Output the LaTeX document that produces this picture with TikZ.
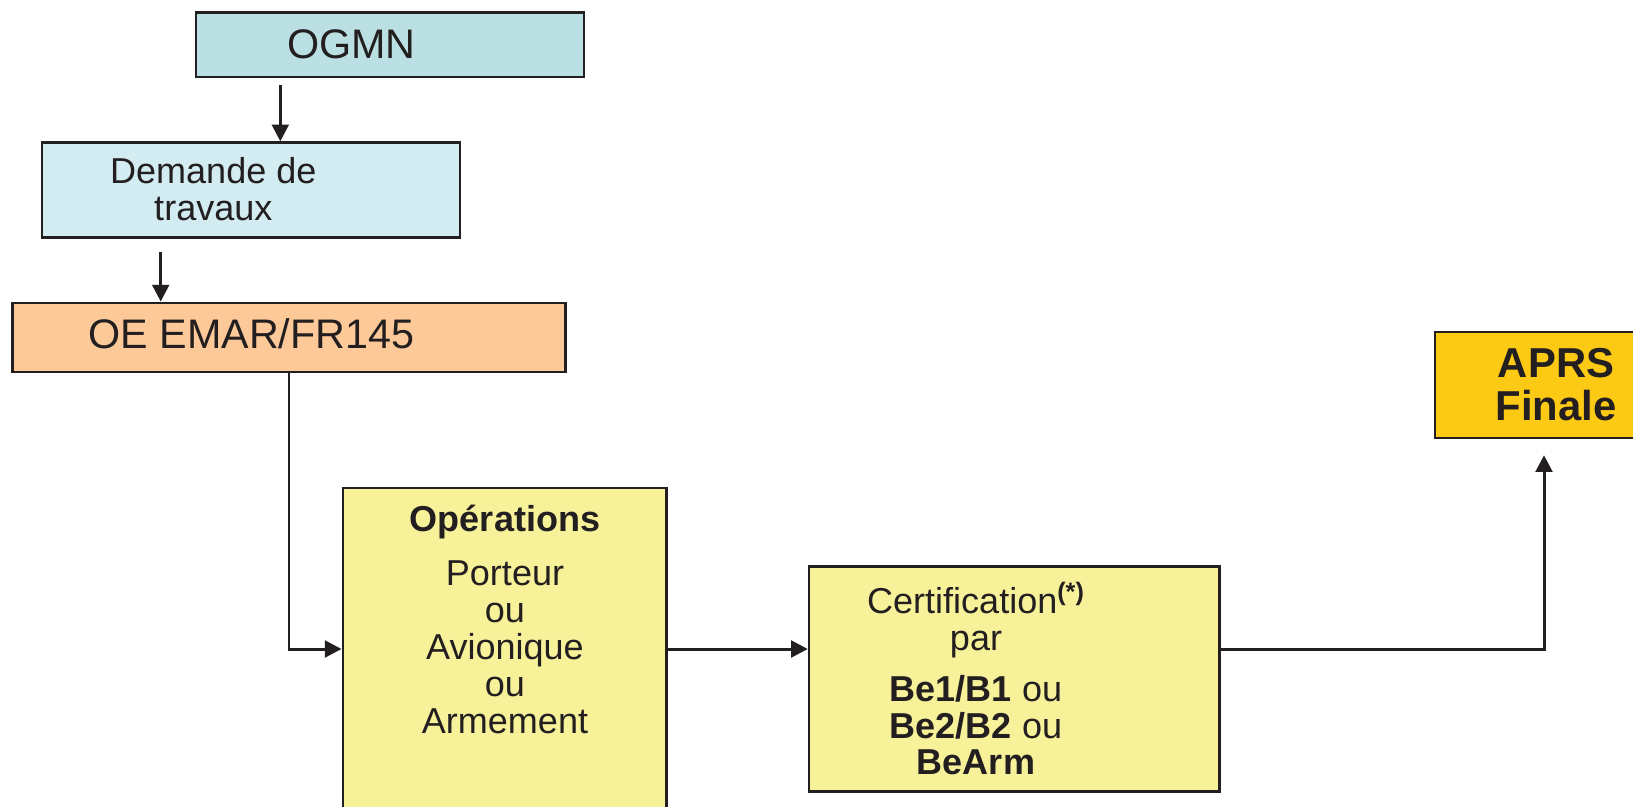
\documentclass[tikz,border=0pt]{standalone}
\usepackage{fontspec}
\setmainfont{Liberation Sans}
\usepackage{xcolor}
\usetikzlibrary{arrows.meta,positioning}

\definecolor{ogmnblue}{HTML}{BBE0E3}
\definecolor{reqblue}{HTML}{D2ECF2}
\definecolor{oeorange}{HTML}{FDC998}
\definecolor{opsyellow}{HTML}{F7F29A}
\definecolor{aprsgold}{HTML}{FCC914}
\definecolor{ink}{HTML}{231F20}

\tikzset{
  box/.style={draw=ink, line width=1.35pt, inner sep=0pt},
  lbl/.style={text=ink, font=\fontsize{20.5}{21}\selectfont, align=center, inner sep=0pt},
  flow/.style={draw=ink, line width=1.7pt, -{Triangle[length=9.5pt,width=9.5pt]}},
}

\begin{document}
\begin{tikzpicture}[x=0.02cm, y=-0.02cm]
	\useasboundingbox (0,0) rectangle (1633,806);
	
	% boxes
	\node[box, fill=ogmnblue, minimum width=7.77cm, minimum height=1.29cm] (ogmn) at (390,44.7) {};
	\node[box, fill=reqblue, minimum width=8.37cm, minimum height=1.9cm] (demande) at (251,190) {};
	\node[box, fill=oeorange, minimum width=11.06cm, minimum height=1.38cm] (oe) at (289,337.2) {};
	\node[box, fill=opsyellow, minimum width=6.48cm, minimum height=6.43cm] (ops) at (504.7,649) {};
	\node[box, fill=opsyellow, minimum width=8.21cm, minimum height=4.5cm] (certif) at (1014.2,679.1) {};
	\node[box, fill=aprsgold, minimum width=4.36cm, minimum height=2.13cm] (aprs) at (1544,385) {};
	
	% texts
	\node[lbl, font=\fontsize{23.5}{24}\selectfont, anchor=base] (ogmntxt) at (351.5,58.3) {OGMN};
	\node[lbl] (demtxt) at (213.3,189.5) {Demande de\\travaux};
	\node[lbl, font=\fontsize{23.5}{24}\selectfont, anchor=base] (oetxt) at (251.5,348.3) {OE EMAR/FR145};
	\node[lbl] (opstxt) at (505,619) {\textbf{Opérations}\\[10pt] Porteur\\ou\\Avionique\\ou\\Armement};
	\node[lbl] (certtxt) at (976,678.5) {Certification\textsuperscript{\textbf{(*)}}\\par\\[8pt] \textbf{Be1/B1} ou\\ \textbf{Be2/B2} ou\\ \textbf{BeArm}};
	\node[lbl, font=\bfseries\fontsize{23.8}{24.5}\selectfont] (aprstxt) at (1556,385) {APRS\\Finale};
	
	% connectors
	\draw[flow, shorten <=4pt] (ogmn.south -| 280.3,0) -- (demande.north -| 280.3,0);
	\draw[flow, shorten <=7.5pt] (demande.south -| 160.7,0) -- (oe.north -| 160.7,0);
	\draw[flow] (oe.south) |- (ops.west);
	\draw[flow] (ops.east) -- (ops.east -| certif.west);
	\draw[flow, shorten >=9pt] (certif.east |- ops.east) -| (aprs.south);
\end{tikzpicture}
\end{document}
